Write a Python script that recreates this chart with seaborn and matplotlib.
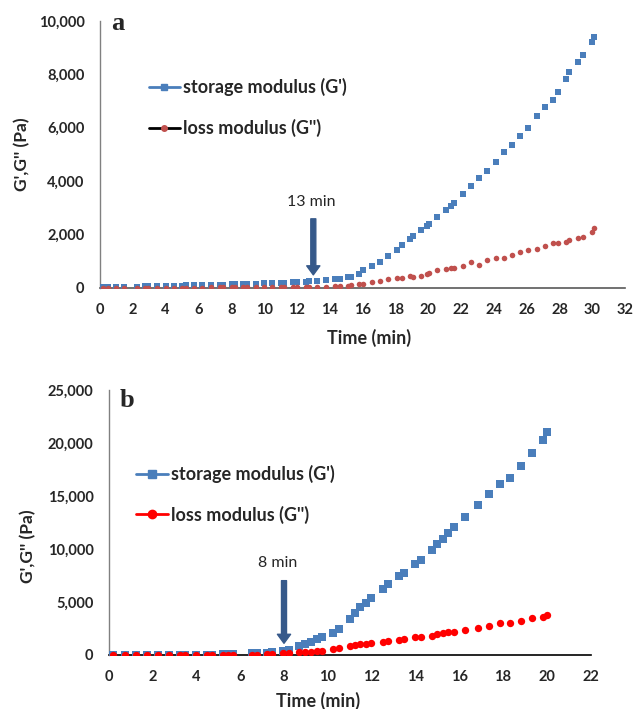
import numpy as np
import pandas as pd
import matplotlib
matplotlib.use("Agg")
import matplotlib.pyplot as plt
from matplotlib.lines import Line2D
from matplotlib.ticker import FuncFormatter
import seaborn as sns

# ---- panel a data ----
time_a = [0.21, 0.48, 0.99, 1.49, 2.24, 2.75, 2.95, 3.50, 4.01, 4.52, 5.02, 5.23,
          5.75, 6.24, 6.75, 7.32, 7.52, 8.03, 8.23, 8.73, 8.98, 9.49, 9.99, 10.50,
          11.01, 11.21, 11.78, 11.98, 12.55, 12.75, 13.25, 13.80, 14.35, 14.60, 15.10,
          15.30, 15.80, 16.05, 16.55, 17.05, 17.55, 18.10, 18.40, 18.90, 19.05, 19.55,
          19.90, 20.05, 20.55, 21.05, 21.40, 21.55, 22.10, 22.60, 23.10, 23.60, 24.10,
          24.60, 25.10, 25.60, 26.10, 26.60, 27.10, 27.60, 27.90, 28.40, 28.60, 29.10,
          29.40, 29.95, 30.10]
storage_a = [30, 35, 40, 45, 50, 55, 60, 65, 70, 80, 85, 90,
             95, 100, 110, 120, 125, 135, 140, 150, 155, 160, 170, 180,
             190, 200, 210, 220, 235, 245, 255, 280, 315, 350, 390,
             425, 525, 650, 810, 950, 1210, 1420, 1600, 1820, 1935, 2150,
             2300, 2400, 2670, 2930, 3080, 3180, 3530, 3810, 4120, 4380, 4700,
             5070, 5340, 5690, 5980, 6420, 6790, 7040, 7330, 7830, 8075, 8440,
             8715, 9190, 9390]
loss_a = [10, 10, 10, 10, 10, 10, 10, 10, 10, 10, 12, 12,
          12, 12, 15, 15, 15, 15, 18, 18, 18, 20, 20, 20,
          22, 22, 25, 25, 28, 30, 35, 40, 62, 62, 87,
          100, 137, 160, 225, 262, 325, 385, 375, 450, 425, 450,
          510, 550, 675, 700, 725, 740, 800, 950, 850, 1050, 1100,
          1135, 1225, 1325, 1400, 1450, 1575, 1675, 1675, 1735, 1800, 1885,
          1920, 2085, 2235]

# ---- panel b data ----
time_b = [0.21, 0.72, 1.23, 1.75, 2.25, 2.74, 3.25, 3.47, 3.98, 4.47, 4.70, 5.22,
          5.45, 5.68, 6.52, 6.75, 7.21, 7.44, 7.97, 8.23, 8.70, 8.96, 9.22, 9.49,
          9.72, 10.25, 10.50, 11.00, 11.24, 11.48, 11.74, 11.99, 12.51, 12.75, 13.25,
          13.49, 14.00, 14.24, 14.74, 15.00, 15.25, 15.50, 15.75, 16.25, 16.84, 17.35,
          17.85, 18.33, 18.84, 19.34, 19.84, 20.02]
storage_b = [0, 0, 0, 0, 0, 0, 5, 5, 10, 20, 25, 60,
             80, 100, 150, 180, 220, 250, 400, 480, 850, 1040, 1250, 1480,
             1650, 2050, 2480, 3430, 3960, 4500, 4940, 5350, 6230, 6670, 7450,
             7770, 8590, 8960, 9900, 10470, 10980, 11480, 12080, 13050, 14150, 15160,
             16160, 16670, 17860, 19090, 20280, 21070]
loss_b = [10, 10, 10, 10, 10, 10, 10, 10, 10, 15, 15, 20,
          20, 20, 30, 30, 50, 60, 140, 170, 255, 285, 315, 345,
          410, 535, 630, 820, 945, 1005, 1070, 1100, 1255, 1290, 1445,
          1540, 1665, 1730, 1825, 1980, 2045, 2140, 2170, 2360, 2545, 2770,
          2990, 3050, 3240, 3490, 3615, 3775]

labels = ["storage modulus (G')", "loss modulus (G'')"]

sns.set_style("white")
plt.rcParams['font.family'] = ['Lato', 'DejaVu Sans']

BLUE = '#4a7ebb'
RED_A = '#c0504d'
RED_B = '#ff0000'
ARROW = '#36598a'

fig = plt.figure(figsize=(6.44, 7.09), dpi=100)
ax_a = fig.add_axes([0.155, 0.594, 0.816, 0.3766])
ax_b = fig.add_axes([0.169, 0.0762, 0.748, 0.3738])

df_a = pd.DataFrame({"t": time_a, "gp": storage_a, "gpp": loss_a})
df_b = pd.DataFrame({"t": time_b, "gp": storage_b, "gpp": loss_b})

sns.scatterplot(data=df_a, x="t", y="gp", marker='s', s=16, color=BLUE,
                linewidth=0, ax=ax_a, legend=False, zorder=3)
sns.scatterplot(data=df_a, x="t", y="gpp", marker='o', s=16, color=RED_A,
                linewidth=0, ax=ax_a, legend=False, zorder=3)
sns.scatterplot(data=df_b, x="t", y="gp", marker='s', s=30, color=BLUE,
                linewidth=0, ax=ax_b, legend=False, zorder=3)
sns.scatterplot(data=df_b, x="t", y="gpp", marker='o', s=28, color=RED_B,
                linewidth=0, ax=ax_b, legend=False, zorder=3)

comma = FuncFormatter(lambda v, p: f"{int(v):,}")

def style(ax, xmax, ymax, ystep, bottom_col):
    ax.set_xlim(0, xmax)
    ax.set_ylim(0, ymax)
    ax.set_xticks(np.arange(0, xmax + 1, 2))
    ax.set_yticks(np.arange(0, ymax + 1, ystep))
    ax.yaxis.set_major_formatter(comma)
    for s in ['top', 'right']:
        ax.spines[s].set_visible(False)
    ax.spines['left'].set_color('#808080')
    ax.spines['bottom'].set_color(bottom_col)
    ax.spines['left'].set_linewidth(1.0)
    ax.spines['bottom'].set_linewidth(1.2)
    ax.tick_params(length=0, pad=11, labelsize=10.5)
    for lab in ax.get_xticklabels() + ax.get_yticklabels():
        lab.set_fontweight('bold')
    ax.set_xlabel("Time (min)", fontsize=13, fontweight='bold')
    ax.set_ylabel("G',G'' (Pa)", fontsize=12.5, fontweight='bold')

style(ax_a, 32, 10000, 2000, '#595959')
style(ax_b, 22, 25000, 5000, '#000000')

ax_a.xaxis.set_label_coords(0.512, -0.155)
ax_a.yaxis.set_label_coords(-0.133, 0.5)
ax_b.xaxis.set_label_coords(0.434, -0.14)
ax_b.yaxis.set_label_coords(-0.151, 0.41)

# panel letters
ax_a.text(0.021, 0.966, "a", transform=ax_a.transAxes, fontsize=19,
          fontweight='bold', family='Liberation Serif', va='baseline')
ax_b.text(0.023, 0.937, "b", transform=ax_b.transAxes, fontsize=19,
          fontweight='bold', family='Liberation Serif', va='baseline')

# gel point arrows
arrow_kw = dict(facecolor=ARROW, edgecolor=ARROW, width=3.6, headwidth=9.5,
                headlength=6.5, shrink=0)
ax_a.annotate("", xy=(13.0, 487), xytext=(13.0, 2585), arrowprops=arrow_kw)
ax_a.text(12.9, 3230, "13 min", ha='center', va='center', fontsize=11.5)
ax_b.annotate("", xy=(8.0, 1100), xytext=(8.0, 7010), arrowprops=arrow_kw)
ax_b.text(7.73, 8710, "8 min", ha='center', va='center', fontsize=11.5)

# legends
h_a = [Line2D([], [], color=BLUE, lw=2, marker='s', ms=4.5, mec=BLUE),
       Line2D([], [], color='black', lw=2, marker='o', ms=4, mfc=RED_A, mec=RED_A)]
h_b = [Line2D([], [], color=BLUE, lw=2, marker='s', ms=6, mec=BLUE),
       Line2D([], [], color=RED_B, lw=2, marker='o', ms=6, mec=RED_B)]
leg_kw = dict(frameon=False, loc='center left', borderpad=0, borderaxespad=0,
              handlelength=1.75, handletextpad=0.15, labelspacing=1.25,
              prop={'weight': 'bold', 'size': 13})
ax_a.legend(h_a, labels, bbox_to_anchor=(0.093, 0.675), **leg_kw)
ax_b.legend(h_b, labels, bbox_to_anchor=(0.057, 0.606), **leg_kw)

fig.savefig("out.png", dpi=100)
